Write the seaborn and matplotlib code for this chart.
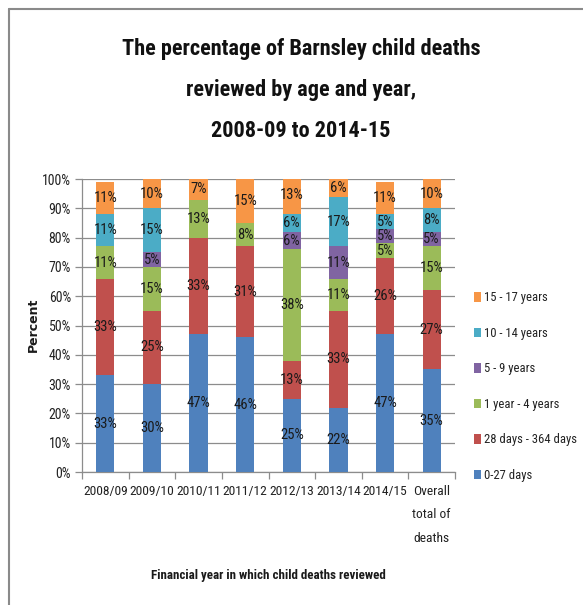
import matplotlib
matplotlib.use("Agg")
import matplotlib.pyplot as plt
from matplotlib import font_manager as fm
from matplotlib.patches import Patch
from matplotlib.lines import Line2D
import numpy as np
import pandas as pd
import seaborn as sns

# Review years and age-band shares (percent of deaths reviewed)
years = ["2008/09", "2009/10", "2010/11", "2011/12", "2012/13",
         "2013/14", "2014/15", "Overall\ntotal of\ndeaths"]
age_groups = ["0-27 days", "28 days - 364 days", "1 year - 4 years",
              "5 - 9 years", "10 - 14 years", "15 - 17 years"]
days_0_27 = [33, 30, 47, 46, 25, 22, 47, 35]
days_28_364 = [33, 25, 33, 31, 13, 33, 26, 27]
years_1_4 = [11, 15, 13, 8, 38, 11, 5, 15]
years_5_9 = [0, 5, 0, 0, 6, 11, 5, 5]
years_10_14 = [11, 15, 0, 0, 6, 17, 5, 8]
years_15_17 = [11, 10, 7, 15, 13, 6, 11, 10]
series = [days_0_27, days_28_364, years_1_4, years_5_9, years_10_14, years_15_17]
colors = ["#4F81BD", "#C0504D", "#9BBB59", "#8064A2", "#4BACC6", "#F79646"]
y_ticks = list(range(0, 101, 10))

sns.set_style("white")

# prefer a condensed face for the narrow chart lettering
installed = {f.name for f in fm.fontManager.ttflist}
font = "Liberation Sans"
for cand in ["Liberation Sans Narrow", "DejaVu Sans Condensed",
             "Roboto Condensed", "Open Sans Condensed", "Noto Sans Condensed"]:
    if cand in installed:
        font = cand
        break
plt.rcParams["font.family"] = [font, "DejaVu Sans"]

fig = plt.figure(figsize=(5.83, 6.05), dpi=100)
ax = fig.add_axes([0.1407, 0.2198, 0.6397, 0.4843])

bottom = np.zeros(len(years))
for name, vals, col in zip(age_groups, series, colors):
    df = pd.DataFrame({"year": years, "pct": vals})
    sns.barplot(data=df, x="year", y="pct", color=col, width=0.39,
                bottom=bottom.copy(), ax=ax, saturation=1, zorder=3,
                edgecolor="none", linewidth=0)
    for i, v in enumerate(vals):
        if v > 0:
            ax.text(i, bottom[i] + v / 2, f"{v}%", ha="center", va="center",
                    fontsize=10.5, color="#1a1a1a", zorder=5)
    bottom += np.array(vals)

ax.set_ylim(0, 100)
ax.set_xlim(-0.5, len(years) - 0.5)
ax.set_yticks(y_ticks)
ax.set_yticklabels([f"{t}%" for t in y_ticks], fontsize=10, color="#222222")
ax.yaxis.grid(True, color="#8c8c8c", linewidth=0.9, zorder=0)
ax.set_axisbelow(True)
ax.tick_params(axis="y", left=True, length=5, width=0.9, color="#8c8c8c", pad=3)
ax.set_xticks(range(len(years)))
ax.set_xticklabels(years, fontsize=9.7, color="#222222", va="top", linespacing=2.05)
ax.set_xticks(np.arange(-0.5, len(years), 1), minor=True)
ax.tick_params(axis="x", which="major", length=0, pad=9)
ax.tick_params(axis="x", which="minor", bottom=True, length=5, width=0.9, color="#8c8c8c")
for s in ["top", "right"]:
    ax.spines[s].set_visible(False)
for s in ["left", "bottom"]:
    ax.spines[s].set_color("#8c8c8c")
    ax.spines[s].set_linewidth(0.9)
ax.set_xlabel("")
ax.set_ylabel("")

fig.text(0.0566, 0.463, "Percent", rotation=90, ha="center", va="center",
         fontsize=9, fontweight="bold", family="DejaVu Sans", color="#1a1a1a")
fig.text(0.46, 0.049, "Financial year in which child deaths reviewed",
         ha="center", va="center", fontsize=9.4, fontweight="bold", color="#1a1a1a")
fig.text(0.516, 0.851,
         "The percentage of Barnsley child deaths\nreviewed by age and year,\n2008-09 to 2014-15",
         ha="center", va="center", fontsize=16, fontweight="bold",
         linespacing=2.1, color="#111111")

handles = [Patch(facecolor=c, edgecolor="none") for c in colors][::-1]
fig.legend(handles, age_groups[::-1], loc="upper left",
           bbox_to_anchor=(0.793, 0.537), frameon=False, fontsize=9.1,
           handlelength=0.55, handleheight=0.8, handletextpad=0.3,
           labelspacing=1.78, labelcolor="#222222")

# outer chart border along top and left edges
fig.add_artist(Line2D([0.0146, 0.0146], [0.0, 0.9855], color="#8a8a8a", lw=1.5))
fig.add_artist(Line2D([0.0146, 1.0], [0.9855, 0.9855], color="#8a8a8a", lw=1.5))

fig.savefig("out.png", dpi=100, facecolor="white")
